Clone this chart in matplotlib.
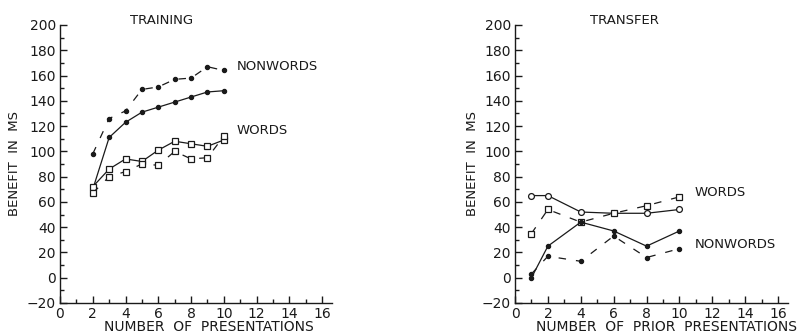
import matplotlib.pyplot as plt
from matplotlib.ticker import MultipleLocator

plt.rcParams['font.family'] = ['DejaVu Sans']

# Training phase: benefit (ms) by number of presentations
train_x = [2, 3, 4, 5, 6, 7, 8, 9, 10]
train_nonwords_dashed = [98, 126, 132, 149, 151, 157, 158, 167, 164]
train_nonwords_solid = [70, 111, 123, 131, 135, 139, 143, 147, 148]
train_words_solid = [72, 86, 94, 92, 101, 108, 106, 104, 109]
train_words_dashed = [67, 80, 84, 90, 89, 100, 94, 95, 112]

# Transfer phase: benefit (ms) by number of prior presentations
transfer_x = [1, 2, 4, 6, 8, 10]
transfer_words_solid = [65, 65, 52, 51, 51, 54]
transfer_words_dashed = [35, 54, 44, 51, 57, 64]
transfer_nonwords_solid = [0, 25, 44, 37, 25, 37]
transfer_nonwords_dashed = [3, 17, 13, 33, 16, 23]

W, H = 807, 336
INK = '#1a1a1a'
DASH = (0, (6, 8))

fig = plt.figure(figsize=(W / 100, H / 100), dpi=100)


def px(x, y):
    return x / W, 1 - y / H


def setup(ax):
    ax.set_xlim(0, 16.6)
    ax.set_ylim(-20, 200)
    for s in ('top', 'right'):
        ax.spines[s].set_visible(False)
    for s in ('left', 'bottom'):
        ax.spines[s].set_linewidth(1.0)
        ax.spines[s].set_color(INK)
    ax.xaxis.set_major_locator(MultipleLocator(2))
    ax.xaxis.set_minor_locator(MultipleLocator(1))
    ax.yaxis.set_major_locator(MultipleLocator(20))
    ax.yaxis.set_minor_locator(MultipleLocator(10))
    ax.tick_params(which='major', direction='in', length=5, width=1.0,
                   color=INK, labelsize=10, labelcolor=INK, pad=3)
    ax.tick_params(which='minor', direction='in', length=3, width=1.0,
                   color=INK)
    ax.patch.set_alpha(0)


def series(ax, x, y, dashed, marker, filled):
    ax.plot(x, y, color=INK, lw=0.9,
            linestyle=DASH if dashed else '-',
            marker=marker, markersize=3.0 if filled else 4.2,
            markerfacecolor=INK if filled else 'white',
            markeredgecolor=INK, markeredgewidth=0.9)


ax1 = fig.add_axes([60 / W, 33 / H, 272 / W, 278 / H])
setup(ax1)
series(ax1, train_x, train_nonwords_dashed, True, 'o', True)
series(ax1, train_x, train_nonwords_solid, False, 'o', True)
series(ax1, train_x, train_words_solid, False, 's', False)
series(ax1, train_x, train_words_dashed, True, 's', False)

ax2 = fig.add_axes([515 / W, 33 / H, 273 / W, 278 / H])
setup(ax2)
series(ax2, transfer_x, transfer_words_solid, False, 'o', False)
series(ax2, transfer_x, transfer_words_dashed, True, 's', False)
series(ax2, transfer_x, transfer_nonwords_solid, False, 'o', True)
series(ax2, transfer_x, transfer_nonwords_dashed, True, 'o', True)

txt = dict(color=INK)
fig.text(*px(162, 20), 'TRAINING', ha='center', va='center', fontsize=9.5, **txt)
fig.text(*px(624, 20), 'TRANSFER', ha='center', va='center', fontsize=9.5, **txt)
fig.text(*px(237, 67), 'NONWORDS', ha='left', va='center', fontsize=9.5, **txt)
fig.text(*px(237, 131), 'WORDS', ha='left', va='center', fontsize=9.5, **txt)
fig.text(*px(695, 193), 'WORDS', ha='left', va='center', fontsize=9.5, **txt)
fig.text(*px(695, 245), 'NONWORDS', ha='left', va='center', fontsize=9.5, **txt)

fig.text(*px(209, 327), 'NUMBER  OF  PRESENTATIONS', ha='center', va='center',
         fontsize=10, **txt)
fig.text(*px(667, 327), 'NUMBER  OF  PRIOR  PRESENTATIONS', ha='center',
         va='center', fontsize=10, **txt)
fig.text(*px(15, 163), 'BENEFIT  IN  MS', rotation=90, ha='center',
         va='center', fontsize=9.5, **txt)
fig.text(*px(472, 163), 'BENEFIT  IN  MS', rotation=90, ha='center',
         va='center', fontsize=9.5, **txt)

fig.savefig('out.png', dpi=100, facecolor='white')
